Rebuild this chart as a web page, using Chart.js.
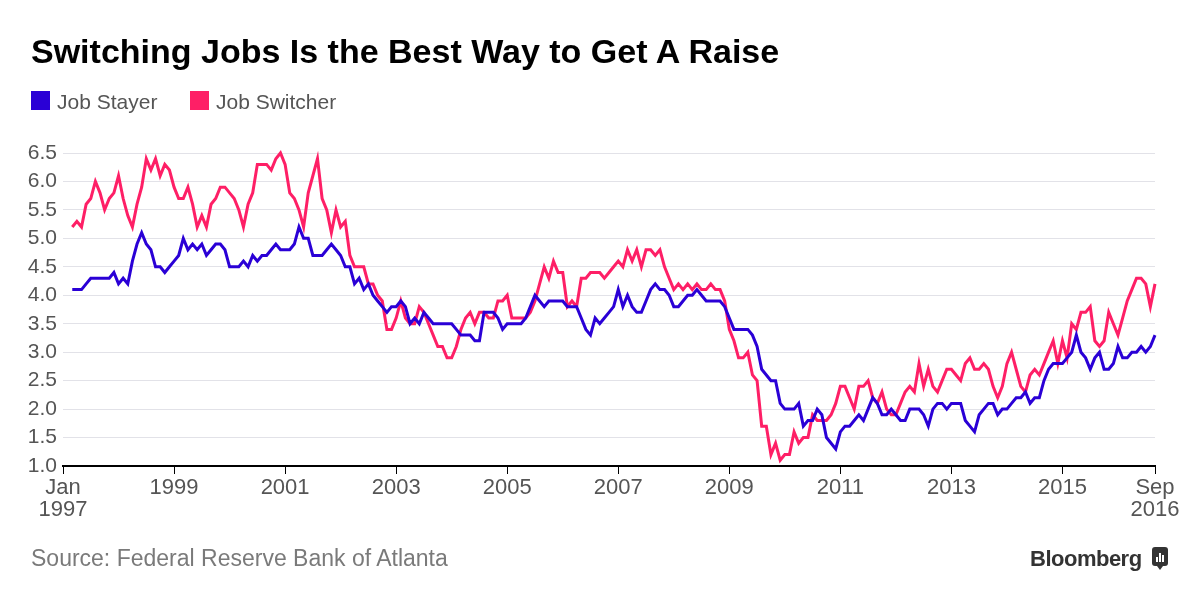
<!DOCTYPE html>
<html>
<head>
<meta charset="utf-8">
<script src="https://cdn.jsdelivr.net/npm/chart.js@4.4.1/dist/chart.umd.min.js"></script>
<style>
  html, body { margin: 0; padding: 0; background: #fff; }
  body { width: 1200px; height: 602px; position: relative; overflow: hidden; font-family: "Liberation Sans", Arial, sans-serif; }
  #wrap { position: absolute; left: 0; top: 0; width: 1200px; height: 602px; }
  .title { position: absolute; left: 31px; top: 34px; font-size: 34px; line-height: 34px; font-weight: bold; color: #000; white-space: nowrap; }
  .legend { position: absolute; top: 91px; font-size: 21px; line-height: 21px; color: #555; white-space: nowrap; }
  .sw { position: absolute; top: 91px; width: 19px; height: 19px; }
  .source { position: absolute; left: 31px; top: 547px; font-size: 23px; line-height: 23px; color: #7a7a7a; white-space: nowrap; }
  .brand { position: absolute; left: 1030px; top: 548px; font-size: 22px; line-height: 22px; font-weight: bold; color: #333; letter-spacing: -0.5px; white-space: nowrap; }
  .icon { position: absolute; left: 1152px; top: 547px; width: 16px; height: 19px; background: #333; border-radius: 3px; }
  .icon i { position: absolute; bottom: 4px; width: 2px; background: #fff; }
  .icon b { position: absolute; left: 5px; top: 19px; width: 0; height: 0; border-left: 3px solid transparent; border-right: 3px solid transparent; border-top: 4px solid #333; }
</style>
</head>
<body>
<div id="wrap"><canvas id="c" width="1200" height="602"></canvas></div>
<div class="title">Switching Jobs Is the Best Way to Get A Raise</div>
<div class="sw" style="left:31px;background:#2a00d6"></div>
<div class="legend" style="left:57px">Job Stayer</div>
<div class="sw" style="left:190px;background:#fe1f66"></div>
<div class="legend" style="left:216px">Job Switcher</div>
<div class="source">Source: Federal Reserve Bank of Atlanta</div>
<div class="brand">Bloomberg</div>
<div class="icon"><i style="left:4px;height:5px"></i><i style="left:7px;height:9px"></i><i style="left:10px;height:7px"></i><b></b></div>
<script>
// Months Jan 1997 .. Sep 2016 (category axis)
const monthNames = ['Jan','Feb','Mar','Apr','May','Jun','Jul','Aug','Sep','Oct','Nov','Dec'];
const months = [];
for (let y = 1997; y <= 2016; y++) {
  for (let m = 0; m < 12; m++) {
    if (y === 2016 && m > 8) break;
    months.push(monthNames[m] + ' ' + y);
  }
}
// Series begin in Mar 1997 (3-month moving average)
const seriesStart = 'Mar 1997';

const jobStayer = [
  4.1,4.1,4.1,4.2,4.3,4.3,4.3,4.3,4.3,4.4,4.2,4.3,4.2,4.6,4.9,5.1,4.9,4.8,4.5,4.5,4.4,4.5,4.6,
  4.7,5.0,4.8,4.9,4.8,4.9,4.7,4.8,4.9,4.9,4.8,4.5,4.5,4.5,4.6,4.5,4.7,4.6,4.7,4.7,4.8,4.9,4.8,
  4.8,4.8,4.9,5.2,5.0,5.0,4.7,4.7,4.7,4.8,4.9,4.8,4.7,4.5,4.5,4.2,4.3,4.1,4.2,4.0,3.9,3.8,3.7,3.8,3.8,
  3.9,3.8,3.5,3.6,3.5,3.7,3.6,3.5,3.5,3.5,3.5,3.5,3.4,3.3,3.3,3.3,3.2,3.2,3.7,3.7,3.7,3.6,3.4,3.5,
  3.5,3.5,3.5,3.6,3.8,4.0,3.9,3.8,3.9,3.9,3.9,3.9,3.8,3.8,3.8,3.6,3.4,3.3,3.6,3.5,3.6,3.7,3.8,4.1,
  3.8,4.0,3.8,3.7,3.7,3.9,4.1,4.2,4.1,4.1,4.0,3.8,3.8,3.9,4.0,4.0,4.1,4.0,3.9,3.9,3.9,3.9,3.8,
  3.6,3.4,3.4,3.4,3.4,3.3,3.1,2.7,2.6,2.5,2.5,2.1,2.0,2.0,2.0,2.1,1.7,1.8,1.8,2.0,1.9,1.5,1.4,1.3,
  1.6,1.7,1.7,1.8,1.9,1.8,2.0,2.2,2.1,1.9,1.9,2.0,1.9,1.8,1.8,2.0,2.0,2.0,1.9,1.7,2.0,2.1,2.1,
  2.0,2.1,2.1,2.1,1.8,1.7,1.6,1.9,2.0,2.1,2.1,1.9,2.0,2.0,2.1,2.2,2.2,2.3,2.1,2.2,2.2,2.5,2.7,2.8,
  2.8,2.8,2.9,3.0,3.3,3.0,2.9,2.7,2.9,3.0,2.7,2.7,2.8,3.1,2.9,2.9,3.0,3.0,3.1,3.0,3.1,3.3
];
const jobSwitcher = [
  5.2,5.3,5.2,5.6,5.7,6.0,5.8,5.5,5.7,5.8,6.1,5.7,5.4,5.2,5.6,5.9,6.4,6.2,6.4,6.1,6.3,6.2,5.9,
  5.7,5.7,5.9,5.6,5.2,5.4,5.2,5.6,5.7,5.9,5.9,5.8,5.7,5.5,5.2,5.6,5.8,6.3,6.3,6.3,6.2,6.4,6.5,
  6.3,5.8,5.7,5.5,5.2,5.8,6.1,6.4,5.7,5.5,5.1,5.5,5.2,5.3,4.7,4.5,4.5,4.5,4.2,4.2,4.0,3.9,3.4,3.4,3.6,
  3.9,3.6,3.5,3.5,3.8,3.7,3.5,3.3,3.1,3.1,2.9,2.9,3.1,3.4,3.6,3.7,3.5,3.7,3.7,3.6,3.6,3.9,3.9,4.0,
  3.6,3.6,3.6,3.6,3.7,3.9,4.2,4.5,4.3,4.6,4.4,4.4,3.8,3.9,3.8,4.3,4.3,4.4,4.4,4.4,4.3,4.4,4.5,4.6,
  4.5,4.8,4.6,4.8,4.5,4.8,4.8,4.7,4.8,4.5,4.3,4.1,4.2,4.1,4.2,4.1,4.2,4.1,4.1,4.2,4.1,4.1,3.9,
  3.4,3.2,2.9,2.9,3.0,2.6,2.5,1.7,1.7,1.2,1.4,1.1,1.2,1.2,1.6,1.4,1.5,1.5,1.9,1.8,1.8,1.8,1.9,2.1,
  2.4,2.4,2.2,2.0,2.4,2.4,2.5,2.2,2.1,2.3,2.0,1.9,1.9,2.1,2.3,2.4,2.3,2.8,2.4,2.7,2.4,2.3,2.5,
  2.7,2.7,2.6,2.5,2.8,2.9,2.7,2.7,2.8,2.7,2.4,2.2,2.4,2.8,3.0,2.7,2.4,2.3,2.6,2.7,2.6,2.8,3.0,3.2,
  2.8,3.2,2.9,3.5,3.4,3.7,3.7,3.8,3.2,3.1,3.2,3.7,3.5,3.3,3.6,3.9,4.1,4.3,4.3,4.2,3.8,4.2
];
const yTicks = [1.0,1.5,2.0,2.5,3.0,3.5,4.0,4.5,5.0,5.5,6.0,6.5];
const xTickLabels = {
  'Jan 1997': ['Jan','1997'], 'Jan 1999': '1999', 'Jan 2001': '2001', 'Jan 2003': '2003',
  'Jan 2005': '2005', 'Jan 2007': '2007', 'Jan 2009': '2009', 'Jan 2011': '2011',
  'Jan 2013': '2013', 'Jan 2015': '2015', 'Sep 2016': ['Sep','2016']
};

const startIdx = months.indexOf(seriesStart);
function align(arr) {
  const out = new Array(months.length).fill(null);
  arr.forEach((v, i) => { if (startIdx + i < out.length) out[startIdx + i] = v; });
  return out;
}

const FONT = "'Liberation Sans', Arial, sans-serif";
new Chart(document.getElementById('c'), {
  type: 'line',
  data: {
    labels: months,
    datasets: [
      { label: 'Job Stayer', data: align(jobStayer), borderColor: '#2a00d6', backgroundColor: '#2a00d6', borderWidth: 3, pointRadius: 0, tension: 0, clip: false, borderJoinStyle: 'miter' },
      { label: 'Job Switcher', data: align(jobSwitcher), borderColor: '#fe1f66', backgroundColor: '#fe1f66', borderWidth: 3, pointRadius: 0, tension: 0, clip: false, borderJoinStyle: 'miter' }
    ]
  },
  options: {
    responsive: false,
    animation: false,
    events: [],
    layout: { padding: { top: 153, right: 45, left: 0, bottom: 0 } },
    plugins: { legend: { display: false }, title: { display: false }, tooltip: { enabled: false } },
    scales: {
      x: {
        type: 'category',
        offset: false,
        border: { display: true, color: '#000', width: 2 },
        grid: { drawOnChartArea: false, drawTicks: true, tickLength: 8, color: '#000', lineWidth: 1 },
        ticks: {
          autoSkip: false, maxRotation: 0, minRotation: 0, padding: 3,
          color: '#555', font: { family: FONT, size: 22, lineHeight: 1.0 },
          callback: function(val, idx) {
            const lab = months[idx];
            return (lab in xTickLabels) ? xTickLabels[lab] : null;
          }
        },
        afterFit: function(s) { s.height = 136; }
      },
      y: {
        min: 1, max: 6.5,
        border: { display: false },
        grid: { drawTicks: false, color: '#e2e2e8', lineWidth: 1 },
        afterBuildTicks: function(s) { s.ticks = yTicks.map(v => ({ value: v })); },
        ticks: {
          autoSkip: false, padding: 6, color: '#555', font: { family: FONT, size: 21 },
          callback: v => Number(v).toFixed(1)
        },
        afterFit: function(s) { s.width = 63; }
      }
    }
  }
});
</script>
</body>
</html>
